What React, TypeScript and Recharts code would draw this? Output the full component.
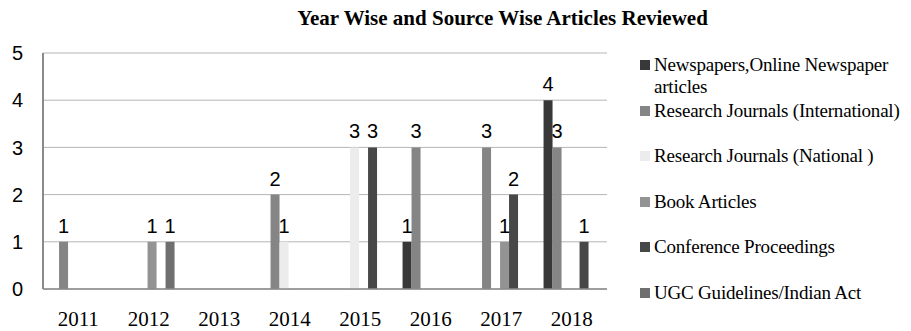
import { Bar, BarChart, CartesianGrid, LabelList, Legend, XAxis, YAxis } from 'recharts';

const years = ['2011', '2012', '2013', '2014', '2015', '2016', '2017', '2018'];

const newspapers = [0, 0, 0, 0, 0, 1, 0, 4];
const journalsIntl = [1, 0, 0, 2, 0, 3, 3, 3];
const journalsNational = [0, 0, 0, 1, 3, 0, 0, 0];
const bookArticles = [0, 1, 0, 0, 0, 0, 1, 0];
const conference = [0, 0, 0, 0, 3, 0, 2, 1];
const ugcGuidelines = [0, 1, 0, 0, 0, 0, 0, 0];

const yTicks = [0, 1, 2, 3, 4, 5];

const series = [
  { key: 'newspapers', name: 'Newspapers,Online Newspaper articles', values: newspapers, color: '#383838' },
  { key: 'intl', name: 'Research Journals (International)', values: journalsIntl, color: '#858585' },
  { key: 'national', name: 'Research Journals (National )', values: journalsNational, color: '#ececec' },
  { key: 'book', name: 'Book Articles', values: bookArticles, color: '#939393' },
  { key: 'conference', name: 'Conference Proceedings', values: conference, color: '#474747' },
  { key: 'ugc', name: 'UGC Guidelines/Indian Act', values: ugcGuidelines, color: '#6f6f6f' },
];

const data = years.map((year, i) => {
  const row: Record<string, string | number> = { year };
  series.forEach((s) => {
    row[s.key] = s.values[i];
  });
  return row;
});

const SANS = '"Liberation Sans", Arial, sans-serif';
const SERIF = '"Liberation Serif", "Times New Roman", serif';

// legend: one block per series (in series order), marker + wrapped text
function SourceLegend({ payload }: { payload?: any[] }) {
  const items = series.map((s) => {
    const hit = (payload ?? []).find((p) => p.value === s.name);
    return { name: s.name, color: hit?.color ?? s.color };
  });
  return (
    <div style={{ width: 275, fontFamily: SERIF, fontSize: 19, lineHeight: '22px', color: '#000' }}>
      {items.map((entry) => (
        <div key={entry.name} style={{ display: 'flex', alignItems: 'flex-start', height: 45.5 }}>
          <span
            style={{
              display: 'inline-block',
              width: 10,
              height: 10,
              marginTop: 6,
              marginRight: 4,
              flex: 'none',
              background: entry.color,
            }}
          />
          <span style={{ width: 256, letterSpacing: -0.2 }}>{entry.name}</span>
        </div>
      ))}
    </div>
  );
}

export default function App() {
  return (
    <div style={{ position: 'absolute', left: 0, top: 0, width: 911, height: 331, background: '#fff' }}>
      <div
        style={{
          position: 'absolute',
          left: 0,
          top: 8,
          width: 1005,
          textAlign: 'center',
          fontFamily: SERIF,
          fontWeight: 'bold',
          fontSize: 21,
          lineHeight: '21px',
          color: '#000',
        }}
      >
        Year Wise and Source Wise Articles Reviewed
      </div>
      <BarChart
        width={911}
        height={331}
        data={data}
        margin={{ top: 53, right: 34, bottom: 0, left: 0 }}
        barCategoryGap="10%"
        barGap={0}
      >
        <CartesianGrid vertical={false} stroke="#b5b5b5" />
        <XAxis
          dataKey="year"
          height={42}
          tickLine={false}
          tickSize={0}
          tickMargin={22}
          axisLine={{ stroke: '#8a8a8a', strokeWidth: 1.5 }}
          tick={{ fontFamily: SERIF, fontSize: 21, fill: '#000' }}
          interval={0}
        />
        <YAxis
          width={43}
          domain={[0, 5]}
          ticks={yTicks}
          tickLine={false}
          tickSize={0}
          tickMargin={20}
          axisLine={{ stroke: '#8a8a8a', strokeWidth: 2 }}
          tick={{ fontFamily: SANS, fontSize: 20, fill: '#000' }}
        />
        <Legend
          layout="vertical"
          align="right"
          verticalAlign="top"
          width={270}
          wrapperStyle={{ left: 640, top: 54, right: 'auto' }}
          content={(props: any) => <SourceLegend payload={props.payload} />}
        />
        {series.map((s) => (
          <Bar key={s.key} dataKey={s.key} name={s.name} fill={s.color} isAnimationActive={false}>
            <LabelList
              dataKey={s.key}
              position="top"
              offset={9}
              formatter={(v: any) => (v ? v : '')}
              style={{ fontFamily: SANS, fontSize: 20, fill: '#000' }}
            />
          </Bar>
        ))}
      </BarChart>
    </div>
  );
}
